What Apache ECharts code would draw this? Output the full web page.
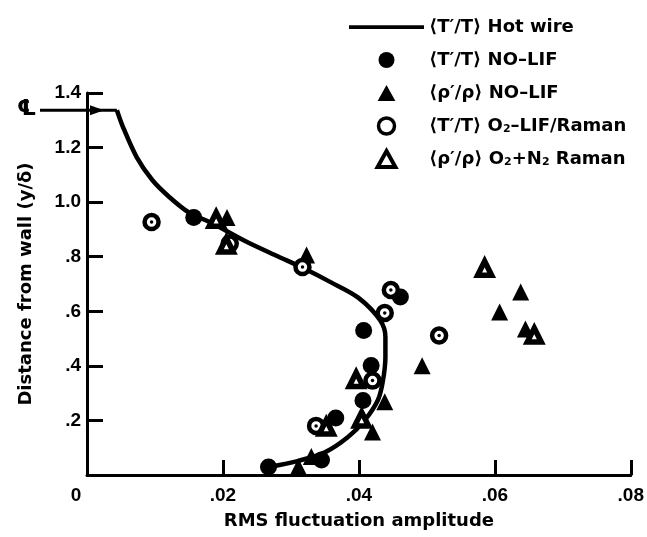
<!DOCTYPE html>
<html><head><meta charset="utf-8">
<script src="https://cdn.jsdelivr.net/npm/echarts@6/dist/echarts.min.js"></script>
<style>html,body{margin:0;padding:0;background:#fff}#c{width:647px;height:537px}</style>
</head><body><div id="c"></div>
<script>
// ---- data ----
const xTicks = [0, 0.02, 0.04, 0.06, 0.08];
const yTicks = [0, 0.2, 0.4, 0.6, 0.8, 1.0, 1.2, 1.4];
const centerlineY = 1.337;
const hotWire = [[0.0044,1.337],[0.0053,1.275],[0.0073,1.165],[0.0096,1.081],[0.0121,1.019],[0.0150,0.962],[0.0184,0.923],[0.0234,0.856],[0.0282,0.800],[0.0315,0.762],[0.0359,0.706],[0.0399,0.650],[0.0431,0.568],[0.0439,0.506],[0.0439,0.432],[0.0435,0.340],[0.0428,0.275],[0.0409,0.202],[0.0384,0.139],[0.0350,0.083],[0.0311,0.052],[0.0267,0.029]];
const tNoLif = [[0.0157,0.944],[0.0461,0.652],[0.0407,0.530],[0.0418,0.401],[0.0406,0.273],[0.0366,0.209],[0.0345,0.055],[0.0267,0.029]];
const rhoNoLif = [[0.0206,0.944],[0.0323,0.806],[0.0638,0.671],[0.0607,0.597],[0.0645,0.535],[0.0493,0.400],[0.0438,0.268],[0.0420,0.158],[0.0330,0.068],[0.0311,0.030]];
const tO2 = [[0.0095,0.927],[0.0210,0.848],[0.0317,0.762],[0.0447,0.678],[0.0438,0.594],[0.0518,0.511],[0.0420,0.346],[0.0337,0.180]];
const rhoO2N2 = [[0.0190,0.937],[0.0205,0.843],[0.0585,0.758],[0.0658,0.513],[0.0396,0.350],[0.0404,0.205],[0.0352,0.176]];
const legendTexts = {
  hw: '⟨T′/T⟩ Hot wire',
  tn: '⟨T′/T⟩ NO–LIF',
  rn: '⟨ρ′/ρ⟩ NO–LIF',
  to: '⟨T′/T⟩ O{s|2}–LIF/Raman',
  ro: '⟨ρ′/ρ⟩ O{s|2}+N{s|2} Raman'
};
const fmtX = v => v === 0 ? '{z|0}' : v.toFixed(2).replace(/^0/, '');
const fmtY = v => v === 0 ? '' : (v >= 1 ? v.toFixed(1) : v.toFixed(1).replace(/^0/, ''));

const FONT = '"Liberation Sans", Arial, sans-serif';
const HEAVY = '"DejaVu Sans", sans-serif';
const TRI = 'path://M5,0L10,9L0,9Z';
const BAR = 'path://M0,0H100V5H0Z';
const chart = echarts.init(document.getElementById('c'), null, {renderer:'canvas'});
const filledStyle = {color:'#000', opacity: 1};
const openStyle = {color:'#fff', borderColor:'#000', borderWidth:4.5, opacity: 1};
const openTriStyle = {color:'#fff', borderColor:'#000', borderWidth:5.5, opacity: 1};
const option = {
  animation: false,
  backgroundColor: '#fff',
  grid: {left: 87, right: 12, top: 93, bottom: 62},
  xAxis: {
    type: 'value', min: 0, max: 0.08, interval: 0.02,
    name: 'RMS fluctuation amplitude', nameLocation: 'middle', nameGap: 37,
    nameTextStyle: {fontFamily: HEAVY, fontWeight: 'bold', fontSize: 18, color:'#000'},
    axisLine: {lineStyle: {color:'#000', width: 3}},
    axisTick: {inside: true, length: 15, lineStyle: {color:'#000', width: 3}},
    axisLabel: {formatter: fmtX, fontFamily: FONT, fontWeight:'bold', fontSize: 19, color:'#000', margin: 11,
      rich: {z: {fontFamily: FONT, fontWeight:'bold', fontSize: 19, color:'#000', padding:[0,22,0,0]}}},
    splitLine: {show: false}
  },
  yAxis: {
    type: 'value', min: 0, max: 1.4, interval: 0.2,
    name: 'Distance from wall (y/δ)', nameLocation: 'middle', nameGap: 52,
    nameTextStyle: {fontFamily: HEAVY, fontWeight: 'bold', fontSize: 18, color:'#000'},
    axisLine: {lineStyle: {color:'#000', width: 3}},
    axisTick: {inside: true, length: 16, lineStyle: {color:'#000', width: 3}},
    axisLabel: {formatter: fmtY, fontFamily: FONT, fontWeight:'bold', fontSize: 19, color:'#000', margin: 6},
    splitLine: {show: false}
  },
  legend: {
    orient: 'vertical', left: 344, top: 12, itemWidth: 75, itemHeight: 16, itemGap: 13,
    symbolKeepAspect: true,
    textStyle: {fontFamily: HEAVY, fontWeight:'bold', fontSize: 18, lineHeight: 20, color:'#000',
      rich: {s: {fontFamily: HEAVY, fontWeight:'bold', fontSize: 11, lineHeight: 13, padding:[7,0,0,0], color:'#000'}}},
    formatter: n => legendTexts[n],
    data: [
      {name:'hw', icon: BAR, itemStyle:{color:'#000', opacity:1}},
      {name:'tn', icon:'circle', itemStyle: filledStyle},
      {name:'rn', icon: TRI, itemStyle: filledStyle},
      {name:'to', icon:'circle', itemStyle: {color:'#fff', borderColor:'#000', borderWidth:3.5, opacity:1}},
      {name:'ro', icon: TRI, itemStyle: {color:'#fff', borderColor:'#000', borderWidth:4, opacity:1}}
    ]
  },
  series: [
    {name:'hw', type:'line', data: hotWire, smooth: 0.3, symbol:'none', showSymbol:false,
      lineStyle:{color:'#000', width:4.5}, itemStyle:{color:'#000'}, z: 2},
    {name:'tn', type:'scatter', data: tNoLif, symbol:'circle', symbolSize: 17, itemStyle: filledStyle, z: 3},
    {name:'rn', type:'scatter', data: rhoNoLif, symbol:'triangle', symbolSize: 17, itemStyle: filledStyle, z: 3},
    {name:'to', type:'scatter', data: tO2, symbol:'circle', symbolSize: 14, itemStyle: openStyle, z: 4},
    {name:'to', type:'scatter', data: tO2, symbol:'circle', symbolSize: 3.5, itemStyle: filledStyle, z: 5, silent: true},
    {name:'ro', type:'scatter', data: rhoO2N2, symbol:'triangle', symbolSize: 14, itemStyle: openTriStyle, z: 4}
  ]
};
chart.setOption(option);
// centerline annotation: symbol and arrow pointing to the start of the hot-wire profile
const pStart = chart.convertToPixel({gridIndex:0}, hotWire[0]);
const pAxis = chart.convertToPixel({gridIndex:0}, [0, centerlineY]);
const yc = pAxis[1];
chart.setOption({graphic: [
  {type:'text', left: 17, top: yc - 12, style:{text:'℄', font:'bold 22px "DejaVu Sans", sans-serif', fill:'#000'}},
  {type:'line', shape:{x1: 40, y1: yc, x2: pStart[0], y2: yc}, style:{stroke:'#000', lineWidth: 3}},
  {type:'polygon', shape:{points:[[pAxis[0]+17, yc],[pAxis[0]+3, yc-5],[pAxis[0]+3, yc+5]]}, style:{fill:'#000'}}
]});
</script></body></html>
